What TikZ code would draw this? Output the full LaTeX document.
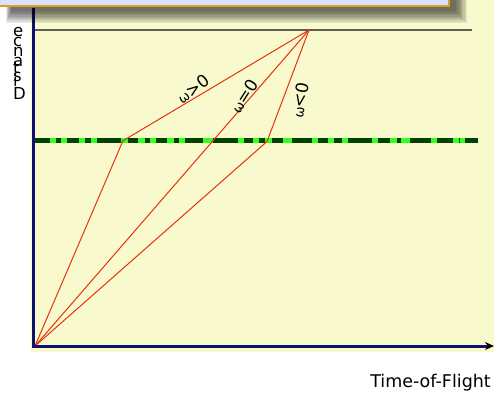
\documentclass[tikz,border=0pt]{standalone}
\usepackage{fontspec}
\setmainfont{DejaVu Sans}
\usetikzlibrary{arrows.meta}
\definecolor{bgyel}{HTML}{F8FACD}
\definecolor{lav}{HTML}{DCE0F8}
\definecolor{boxor}{HTML}{D8A030}
\definecolor{navy}{HTML}{10106E}
\definecolor{dkgreen}{HTML}{004000}
\definecolor{ltgreen}{HTML}{33FF22}
\definecolor{redl}{HTML}{E8300F}
\definecolor{grayl}{HTML}{5E5E50}
\tikzset{
  axisline/.style={navy, line width=3pt},
  pathline/.style={redl, line width=1pt, line join=round},
  letter/.style={inner sep=0pt, anchor=base west, font=\fontsize{16.5}{16.5}\selectfont},
  omlabel/.style={inner sep=0pt},
  big/.style={font=\fontsize{17.5}{17.5}\selectfont}
}
\newcommand{\omlab}[1]{{\fontsize{13}{13}\selectfont ω}{\fontsize{17}{17}\selectfont #1}}
\begin{document}
\begin{tikzpicture}[x=1pt,y=-1pt]
\useasboundingbox (0,0) rectangle (494,392);
\fill[white] (0,0) rectangle (494,392);
% plot area
\fill[bgyel] (31,0) rectangle (494,352);
% key points
\coordinate (O) at (35,346);
\coordinate (K1) at (123,140.7);
\coordinate (K2) at (267,141.5);
\coordinate (A) at (309,30);
\coordinate (G1) at (35,30);
\coordinate (G2) at (472,30);
\coordinate (L1) at (35,140.7);
\coordinate (L2) at (478,140.7);
\coordinate (YT) at (33,8);
\coordinate (YB) at (33,347.5);
\coordinate (XL) at (31.5,346);
\coordinate (XR) at (494,346);
% gray line
\draw[grayl, line width=1.3pt] (G1) -- (G2);
% green line
\draw[dkgreen, line width=4.7pt] (L1) -- (L2);
\foreach \a/\b in {50/56,61/67,79/85,91/97,121/128,138/145,150/156,167/174,179/185,203/213,238/244,253/259,265/272,283/292,312/318,328/334,342/348,372/378,390/397,401/410,431/437,453/459,460/465}
  \draw[ltgreen, line width=4.7pt] (\a,140.7) -- (\b,140.7);
% red paths
\draw[pathline] (O) -- (K1) -- (A);
\draw[pathline] (O) -- (A);
\draw[pathline] (O) -- (K2) -- (A);
% axes
\draw[axisline] (YT) -- (YB);
\draw[axisline, -{Stealth[length=9pt,width=8pt,black]}] (XL) -- (XR);
% top box shadow
\foreach \i in {0,...,9}
  \fill[black, opacity=0.075] (6+\i*0.6, -10) rectangle (467-\i*1.2, 23-\i*1.3);
% top box
\draw[boxor, line width=2pt, fill=lav] (-10,-10) rectangle (449,5.5);
% labels
\node[omlabel, rotate=37] (l1) at (193,89) {\omlab{>0}};
\node[omlabel, rotate=57] (l2) at (244,96) {\omlab{=0}};
\node[omlabel, rotate=80] (l3) at (300,100) {\omlab{<0}};
% y label (stacked glyphs)
\node[letter] (d1) at (13,99) {D};
\node[letter] (d2) at (13,86.3) {i};
\node[letter] (d3) at (13,81.7) {s};
\node[letter] (d4) at (13,73.1) {t};
\node[letter] (d5) at (13,66.6) {a};
\node[letter] (d6) at (13,56.5) {n};
\node[letter] (d7) at (13,46.0) {c};
\node[letter] (d8) at (13,36.9) {e};
% x label
\node[big, inner sep=0pt, anchor=base east] (xl) at (491,387) {Time-of-Flight};
\end{tikzpicture}
\end{document}
